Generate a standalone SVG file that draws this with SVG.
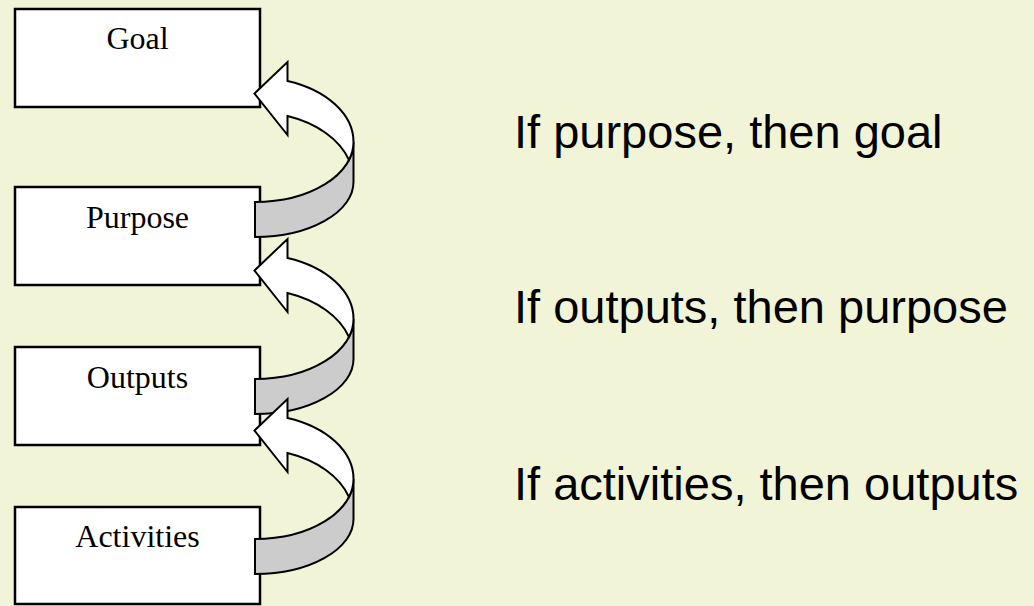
<svg xmlns="http://www.w3.org/2000/svg" width="1034" height="606" viewBox="0 0 1034 606">
  <defs>
    <style>
      .box { fill: #FFFFFF; stroke: #000000; stroke-width: 2.5; }
      .lbl { font-family: "Liberation Serif", "Times New Roman", serif; font-size: 32px; fill: #000000; text-anchor: middle; }
      .side { font-family: "Liberation Sans", Arial, sans-serif; font-size: 47px; fill: #000000; }
      .back { fill: #CCCCCC; stroke: #000000; stroke-width: 2; stroke-linejoin: miter; }
      .front { fill: #FFFFFF; stroke: #000000; stroke-width: 2; stroke-linejoin: miter; }
    </style>
    <g id="curvedArrow">
      <path class="back" d="M 255 202 A 98.5 60 0 0 0 353.5 142 L 353.5 182 A 98.5 55 0 0 1 255 237 Z"/>
      <path class="front" d="M 287.5 81 L 287.5 62 L 254.5 93.5 L 287.5 135 L 287.5 116 A 98.5 68 0 0 1 349 160 A 98.5 60 0 0 0 353.5 142 A 98.5 64.6 0 0 0 287.5 81 Z"/>
    </g>
  </defs>
  <rect x="0" y="0" width="1034" height="606" fill="#F2F4D8"/>

  <g id="goal">
    <rect class="box" x="15" y="9" width="245" height="98"/>
    <text class="lbl" x="137.5" y="49">Goal</text>
  </g>
  <g id="purpose">
    <rect class="box" x="15" y="187" width="245" height="98"/>
    <text class="lbl" x="137.5" y="228">Purpose</text>
  </g>
  <g id="outputs">
    <rect class="box" x="15" y="347" width="245" height="98"/>
    <text class="lbl" x="137.5" y="388">Outputs</text>
  </g>
  <g id="activities">
    <rect class="box" x="15" y="507" width="245" height="97"/>
    <text class="lbl" x="137.5" y="547">Activities</text>
  </g>

  <g id="connectors">
    <use href="#curvedArrow"/>
    <use href="#curvedArrow" transform="translate(0,177)"/>
    <use href="#curvedArrow" transform="translate(0,337)"/>
  </g>

  <g id="statements">
    <text class="side" x="514" y="148">If purpose, then goal</text>
    <text class="side" x="514" y="323">If outputs, then purpose</text>
    <text class="side" x="514" y="500">If activities, then outputs</text>
  </g>
</svg>
